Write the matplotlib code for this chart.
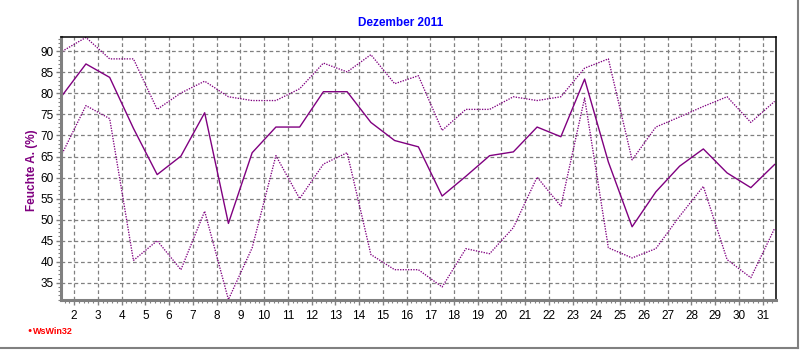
import numpy as np
import matplotlib
matplotlib.use("Agg")
import matplotlib.pyplot as plt
from matplotlib.ticker import MultipleLocator
from matplotlib.lines import Line2D

# Daten: Feuchte aussen, Dezember 2011 (Tageswerte, je Tag Mitte)
tage = list(range(1, 32))
feuchte_mittel = [79.5, 87.0, 83.8, 71.7, 60.7, 65.1, 75.4, 49.1, 65.9, 72.0,
                  72.0, 80.4, 80.4, 73.1, 68.8, 67.3, 55.6, 60.3, 65.2, 66.1,
                  72.0, 69.7, 83.4, 63.7, 48.3, 56.6, 62.7, 66.8, 61.1, 57.6,
                  63.1]
feuchte_max = [90.0, 93.3, 88.2, 88.2, 76.2, 80.1, 82.9, 79.2, 78.3, 78.3,
               81.1, 87.2, 85.1, 89.2, 82.3, 84.2, 71.2, 76.2, 76.2, 79.2,
               78.3, 79.2, 86.0, 88.2, 64.2, 72.0, 74.4, 76.9, 79.2, 73.1,
               78.1]
feuchte_min = [65.7, 77.1, 74.0, 40.3, 45.0, 38.1, 52.0, 31.0, 43.3, 65.2,
               55.0, 63.2, 65.9, 41.7, 38.1, 38.1, 34.0, 43.1, 41.9, 48.1,
               60.1, 53.2, 78.9, 43.3, 40.9, 43.1, 50.8, 57.9, 40.5, 36.2,
               47.9]
x_ticks = list(range(2, 32))
y_ticks = list(range(35, 95, 5))

LILA = "#800080"
GRAU = "#808080"

plt.rcParams["font.family"] = ["Liberation Sans", "DejaVu Sans"]

fig = plt.figure(figsize=(8, 3.5), dpi=100)
ax = fig.add_axes([61 / 800, 50 / 350, 715 / 800, 263 / 350])

x = np.array(tage) + 0.5
ax.plot(x, feuchte_max, color=LILA, lw=0.95, ls=(0, (1, 1)))
ax.plot(x, feuchte_min, color=LILA, lw=0.95, ls=(0, (1, 1)))
ax.plot(x, feuchte_mittel, color=LILA, lw=1.0)

ax.set_xlim(1.45, 31.56)
ax.set_ylim(30.9, 93.4)
ax.set_xticks(x_ticks)
ax.set_yticks(y_ticks)
ax.xaxis.set_minor_locator(MultipleLocator(0.2))
ax.yaxis.set_minor_locator(MultipleLocator(1))

ax.grid(True, which="major", color=GRAU, ls=(0, (3, 2.2)), lw=0.9)
ax.set_axisbelow(True)

ax.tick_params(axis="both", which="major", labelsize=8.5, color=GRAU,
               length=3.5, width=1)
ax.tick_params(axis="both", which="minor", color=GRAU, length=2, width=0.8)
ax.tick_params(axis="x", which="major", pad=4)
ax.tick_params(axis="y", which="major", pad=1.5)

for s in ("left", "bottom"):
    ax.spines[s].set_color(GRAU)
    ax.spines[s].set_linewidth(2.2)
for s in ("top", "right"):
    ax.spines[s].set_color("black")
    ax.spines[s].set_linewidth(1.1)

fig.text(401 / 800, 1 - 23 / 350, "Dezember 2011", color="#0000FF",
         fontsize=8.5, fontweight="bold", ha="center", va="center")
fig.text(32 / 800, 1 - 170 / 350, "Feuchte A. (%)", color=LILA,
         fontsize=8.5, fontweight="bold", rotation=90, ha="center", va="center")

# Logo unten links
fig.text(27 / 800, 1 - 331 / 350, "\u25cf", color="red", fontsize=5,
         ha="left", va="center")
fig.text(33 / 800, 1 - 331 / 350, "WsWin32", color="red", fontsize=6.5,
         fontweight="bold", ha="left", va="center")

# Rahmen rechts und unten
fig.add_artist(Line2D([0, 798 / 800], [1 - 348 / 350, 1 - 348 / 350],
                      transform=fig.transFigure, color=GRAU, lw=1.5))
fig.add_artist(Line2D([798 / 800, 798 / 800], [1 - 348 / 350, 1],
                      transform=fig.transFigure, color=GRAU, lw=1.5))

fig.savefig("out.png", dpi=100)
